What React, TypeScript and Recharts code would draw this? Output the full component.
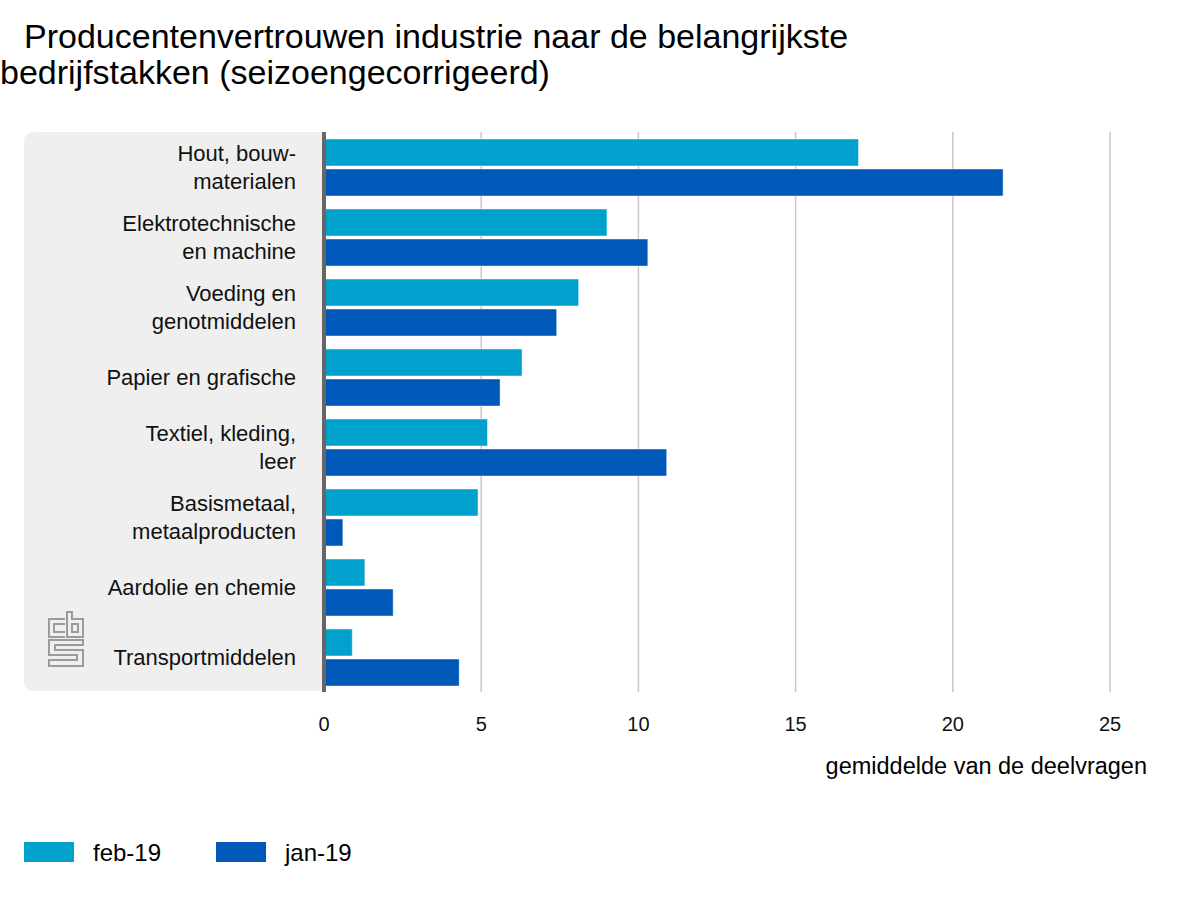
import React from "react";
import { BarChart, Bar, XAxis, YAxis, CartesianGrid } from "recharts";

const categories = [
  "Hout, bouw-\nmaterialen",
  "Elektrotechnische\nen machine",
  "Voeding en\ngenotmiddelen",
  "Papier en grafische",
  "Textiel, kleding,\nleer",
  "Basismetaal,\nmetaalproducten",
  "Aardolie en chemie",
  "Transportmiddelen",
];
const feb19 = [17.0, 9.0, 8.1, 6.3, 5.2, 4.9, 1.3, 0.9];
const jan19 = [21.6, 10.3, 7.4, 5.6, 10.9, 0.6, 2.2, 4.3];
const xTicks = [0, 5, 10, 15, 20, 25];
const seriesNames = ["feb-19", "jan-19"];
const titleLines = ["Producentenvertrouwen industrie naar de belangrijkste", "bedrijfstakken (seizoengecorrigeerd)"];
const axisTitle = "gemiddelde van de deelvragen";

const COLORS = ["#00a1cd", "#0058b8"];
const FONT = '"Liberation Sans", Arial, Helvetica, sans-serif';

const data = categories.map((name, i) => ({ name, feb: feb19[i], jan: jan19[i] }));

const CatTick = (props: any) => {
  const { y, payload } = props;
  const lines: string[] = String(payload.value).split("\n");
  const lh = 28;
  const start = y - ((lines.length - 1) * lh) / 2;
  return (
    <text textAnchor="end" fontSize={22} fill="#111" fontFamily={FONT}>
      {lines.map((l, i) => (
        <tspan key={i} x={296} y={start + i * lh} dy="0.36em">
          {l}
        </tspan>
      ))}
    </text>
  );
};

const Logo = () => (
  <g fill="none" stroke="#9b9b9b" strokeWidth={2}>
    <path d="M65,619 H49 V637 H65" />
    <path d="M65,624 H54 V632 H65" />
    <path d="M67,612 V637 H83 V619 H72 V612 Z" />
    <rect x={72} y={624} width={6} height={8} />
    <path d="M83,640 H49 V655 H77 V660 H49 V666 H83 V650 H55 V645 H83 Z" />
  </g>
);

export default function App() {
  return (
    <div
      style={{
        position: "absolute",
        left: 0,
        top: 0,
        width: 1200,
        height: 900,
        background: "#ffffff",
        fontFamily: FONT,
      }}
    >
      <svg width={1200} height={900} style={{ position: "absolute", left: 0, top: 0 }}>
        <path d="M34,132 H324 V691 H34 Q24,691 24,681 V142 Q24,132 34,132 Z" fill="#efefef" />
        <Logo />
        <text x={24} y={48} fontSize={34} fill="#000" fontFamily={FONT}>
          {titleLines[0]}
        </text>
        <text x={0} y={84} fontSize={34} fill="#000" fontFamily={FONT}>
          {titleLines[1]}
        </text>
        <text x={1147} y={774} fontSize={23.5} fill="#000" textAnchor="end" fontFamily={FONT}>
          {axisTitle}
        </text>
        <rect x={24} y={842} width={50} height={20} fill={COLORS[0]} />
        <text x={93} y={861} fontSize={24} fill="#000" fontFamily={FONT}>
          {seriesNames[0]}
        </text>
        <rect x={216} y={842} width={50} height={20} fill={COLORS[1]} />
        <text x={285} y={861} fontSize={24} fill="#000" fontFamily={FONT}>
          {seriesNames[1]}
        </text>
      </svg>
      <div style={{ position: "absolute", left: 0, top: 0 }}>
        <BarChart
          width={1200}
          height={900}
          data={data}
          layout="vertical"
          margin={{ top: 132, right: 90, left: 0, bottom: 148 }}
          barSize={27}
          barGap={3}
        >
          <CartesianGrid horizontal={false} vertical={true} stroke="#c8c8c8" strokeWidth={1.5} />
          <XAxis
            type="number"
            domain={[0, 25]}
            ticks={xTicks}
            height={60}
            axisLine={false}
            tickLine={false}
            tickMargin={19}
            tick={{ fill: "#111", fontSize: 20, fontFamily: FONT }}
            interval={0}
          />
          <YAxis
            type="category"
            dataKey="name"
            width={324}
            axisLine={{ stroke: "#666666", strokeWidth: 4 }}
            tickLine={false}
            tick={<CatTick />}
            interval={0}
          />
          <Bar dataKey="feb" name={seriesNames[0]} fill={COLORS[0]} stroke="rgba(255,255,255,0.45)" strokeWidth={1} isAnimationActive={false} />
          <Bar dataKey="jan" name={seriesNames[1]} fill={COLORS[1]} stroke="rgba(255,255,255,0.45)" strokeWidth={1} isAnimationActive={false} />
        </BarChart>
      </div>
    </div>
  );
}
